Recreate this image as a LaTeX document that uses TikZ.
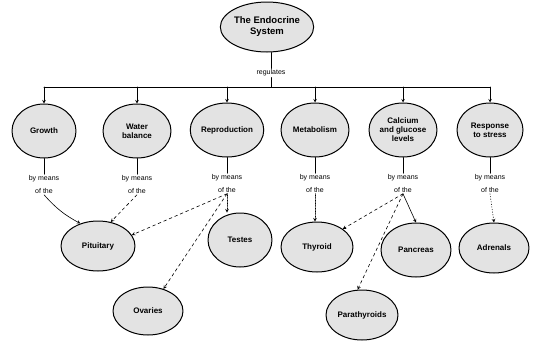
\documentclass[tikz,border=0pt]{standalone}
\usepackage{fontspec}
\setmainfont{Liberation Sans}
\usetikzlibrary{shapes.geometric}
\begin{document}
\begin{tikzpicture}[x=1pt,y=-1pt,line join=round,line cap=round,>=stealth,
  gland/.style={ellipse,draw,line width=1pt,fill=gray!22,minimum width=68pt,
    minimum height=54pt,inner sep=0pt,align=center,
    font=\fontsize{8}{9}\selectfont\bfseries},
  means/.style={align=center,inner sep=1pt,font=\fontsize{7}{13}\selectfont},
  link/.style={->,line width=0.6pt}]
  \useasboundingbox (0,0) rectangle (536,341);
  % top concept
  \node[gland,minimum width=90pt,minimum height=50pt,
    font=\fontsize{9.5}{11}\selectfont\bfseries] (sys) at (267,27) {The Endocrine\\System};
  \node[means] (reg) at (271,73) {regulates};
  \coordinate (hub) at (271,87);
  \coordinate (d1) at (44,87);
  \coordinate (d6) at (490,87);
  % functions
  \node[gland,minimum width=64pt] (grow) at (44,131) {Growth};
  \node[gland] (water) at (137,131) {Water\\balance};
  \node[gland,minimum width=70pt] (repro) at (227,130) {Reproduction};
  \node[gland] (metab) at (315,130) {Metabolism};
  \node[gland] (calc) at (403,130) {Calcium\\and glucose\\levels};
  \node[gland,minimum width=66pt] (stress) at (490,130) {Response\\to stress};
  % glands
  \node[gland,minimum width=74pt,minimum height=50pt] (pit) at (98,246) {Pituitary};
  \node[gland,minimum width=64pt] (test) at (240,240) {Testes};
  \node[gland,minimum width=70pt,minimum height=48pt] (ova) at (148,311) {Ovaries};
  \node[gland,minimum width=72pt,minimum height=50pt] (thy) at (317,247) {Thyroid};
  \node[gland,minimum width=70pt,minimum height=54pt] (panc) at (416,250) {Pancreas};
  \node[gland,minimum width=72pt,minimum height=50pt] (para) at (362,315) {Parathyroids};
  \node[gland,minimum width=70pt,minimum height=50pt] (adr) at (494,248) {Adrenals};
  \foreach \f/\n in {grow/bm1,water/bm2,repro/bm3,metab/bm4,calc/bm5,stress/bm6}{
    \path (\f.south) ++(0,26) node[means] (\n) {by means\\of the};
    \draw[line width=0.6pt] (\f) -- (\n);
  }
  \draw[line width=0.6pt] (sys.south -| reg) -- (reg);
  \draw[line width=0.6pt] (reg) -- (hub);
  \draw[line width=1pt] (d1) -- (d6);
  \foreach \f in {grow,water,repro,metab,calc,stress}
    \draw[link] (\f |- d1) -- (\f);
  % means of
  \draw[link] (bm1.south) to[bend right=10] (pit.128);
  \draw[link,dashed] (bm2.south) -- (pit.62);
  \draw[link,dashed] (bm3.south) -- (pit.18);
  \draw[link,dashed] (bm3.south) -- (ova.55);
  \draw[link,densely dotted] (bm3.south) -- (bm3.south |- test.north);
  \draw[link,densely dotted] (bm4.south) -- (bm4.south |- thy.north);
  \draw[link,dashed] (bm5.south) -- (thy.35);
  \draw[link,dashed] (bm5.south) -- (para.100);
  \draw[link] (bm5.south) -- (panc.north);
  \draw[link,dotted] (bm6.south) -- (adr.north);
\end{tikzpicture}
\end{document}
